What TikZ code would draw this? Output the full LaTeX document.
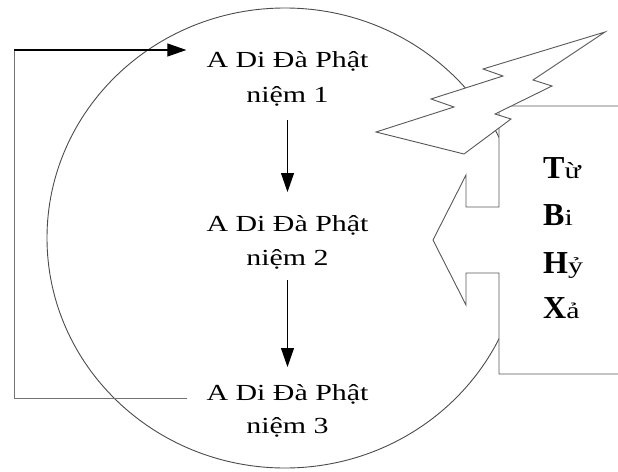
\documentclass[tikz,border=0pt]{standalone}
\usepackage{fontspec}
\setmainfont{Liberation Serif}
\newfontfamily\bodyf[FakeStretch=1.3]{Liberation Serif}
\usetikzlibrary{arrows.meta}
\begin{document}
\begin{tikzpicture}[x=1pt,y=-1pt,
  body/.style={font=\bodyf\fontsize{23}{27}\selectfont, inner sep=0pt, anchor=base},
  rt/.style={font=\bodyf\fontsize{23}{27}\selectfont, inner sep=0pt, anchor=base west},
  shp/.style={draw=black!65, line width=0.9pt, fill=white, line join=miter},
  arr/.style={draw=black, line width=1.1pt, -{Triangle[length=19pt,width=13pt]}},
  loopln/.style={draw=black!55, line width=1pt}]
\useasboundingbox (0,0) rectangle (618,471);
\fill[white] (0,0) rectangle (618,471);
% circle
\draw[draw=black!70, line width=0.9pt] (285,238) ellipse [x radius=238, y radius=230];
% callout with left arrow
\draw[shp] (620,106) -- (499,106) -- (499,207) -- (466,207) -- (466,175) -- (433,240)
  -- (466,305) -- (466,273) -- (499,273) -- (499,374) -- (620,374);
% lightning bolt
\draw[shp] (605,32) -- (483,69) -- (503,76) -- (431,99) -- (454,107) -- (376,132)
  -- (464,154) -- (511,119) -- (495,114) -- (552,86) -- (533,80) -- cycle;
% texts
\node[body] (n1a) at (287.5,67) {A Di Đà Phật};
\node[body] (n1b) at (287.5,102) {niệm 1};
\node[body] (n2a) at (287.5,231) {A Di Đà Phật};
\node[body] (n2b) at (287.5,265) {niệm 2};
\node[body] (n3a) at (287.5,400) {A Di Đà Phật};
\node[body] (n3b) at (287.5,433) {niệm 3};
\node[rt] (t1) at (543,178) {{\rmfamily\bfseries\fontsize{32}{36}\selectfont T}ừ};
\node[rt] (t2) at (543,225) {{\rmfamily\bfseries\fontsize{32}{36}\selectfont B}i};
\node[rt] (t3) at (543,273) {{\rmfamily\bfseries\fontsize{32}{36}\selectfont H}ỷ};
\node[rt] (t4) at (543,318) {{\rmfamily\bfseries\fontsize{32}{36}\selectfont X}ả};
% arrows
\draw[arr] ([yshift=-18pt]n1b.base) -- ([yshift=39pt]n2a.base);
\draw[arr] ([yshift=-15pt]n2b.base) -- ([yshift=33pt]n3a.base);
% feedback loop
\coordinate (c3) at (14,398);
\coordinate (c1) at (14,50);
\draw[loopln] ([xshift=-19pt,yshift=2pt]n3a.base west) -- (c3) -- (c1);
\draw[arr] (c1) -- ([xshift=-20pt,yshift=17pt]n1a.base west);
\end{tikzpicture}
\end{document}
